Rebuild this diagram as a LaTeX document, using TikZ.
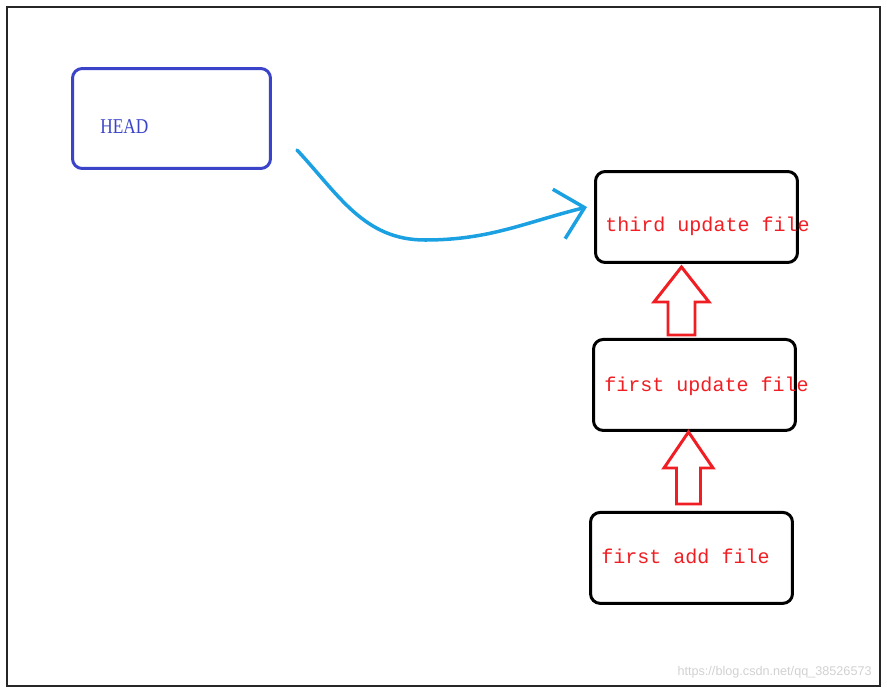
\documentclass[tikz,border=0pt]{standalone}
\usepackage{fontspec}
\usepackage{xcolor}
\usepackage{tikz}
\usetikzlibrary{arrows.meta,positioning}
\newfontfamily\headfont[FakeStretch=0.82]{Liberation Serif}
\newfontfamily\filefont{Liberation Mono}
\newfontfamily\markfont{Liberation Sans}
\definecolor{headblue}{HTML}{3B44C8}
\definecolor{pointblue}{HTML}{1BA1E2}
\definecolor{markred}{HTML}{F01E23}

\begin{document}
\begin{tikzpicture}[
    x=0.02cm, y=-0.02cm,
    refbox/.style={rounded corners=5.5pt, line width=1.7pt,
                   minimum width=4.04cm, minimum height=1.82cm},
    filebox/.style={refbox, draw=black},
    headbox/.style={refbox, draw=headblue, minimum width=3.96cm,
                    minimum height=2cm},
    filetext/.style={inner sep=0pt, anchor=base west, text=markred,
                     font=\filefont\fontsize{11.4pt}{13pt}\selectfont},
    headtext/.style={inner sep=0pt, anchor=base west, text=headblue,
                     font=\headfont\fontsize{12pt}{14pt}\selectfont},
    pointer/.style={-{Straight Barb[length=15pt,width=29pt]}, draw=pointblue,
                    line width=2pt, line cap=round},
    hollow/.style={draw=markred, line width=1.7pt, line join=miter}]
  \useasboundingbox (0,0) rectangle (887,693);
  \draw[black!85, line width=1pt] (7,7) rectangle (880,686);

  % boxes
  \node[headbox] (head) at (171.5,118.5) {};
  \node[filebox] (third) at (696.5,217) {};
  \node[filebox, below=1.48cm of third, xshift=-0.04cm] (update) {};
  \node[filebox, below=1.58cm of update, xshift=-0.06cm] (add) {};

  % labels
  \node[headtext] (headlabel) at (100,133) {HEAD};
  \node[filetext] (thirdlabel) at (605,231) {third update file};
  \node[filetext] (updatelabel) at (604,391) {first update file};
  \node[filetext] (addlabel) at (601,563) {first add file};

  % HEAD pointer
  \coordinate (headtail) at (297,150);
  \coordinate (bend) at (425,240);
  \coordinate (headtip) at (587,207);
  \draw[pointer] (headtail) to[out=-47,in=180] (bend) to[out=0,in=194] (headtip);

  % hollow arrows
  \draw[hollow] (681.5,267) -- (709,302) -- (695,302) -- (695,335)
    -- (668,335) -- (668,302) -- (654,302) -- cycle;
  \draw[hollow] (688.5,432) -- (713,468) -- (700.5,468) -- (700.5,504)
    -- (676.5,504) -- (676.5,468) -- (664,468) -- cycle;

  \node[inner sep=0pt, anchor=base east, text=black!18,
        font=\markfont\fontsize{7.2pt}{9pt}\selectfont] (mark) at (872,675)
        {https://blog.csdn.net/qq\_38526573};
\end{tikzpicture}
\end{document}
